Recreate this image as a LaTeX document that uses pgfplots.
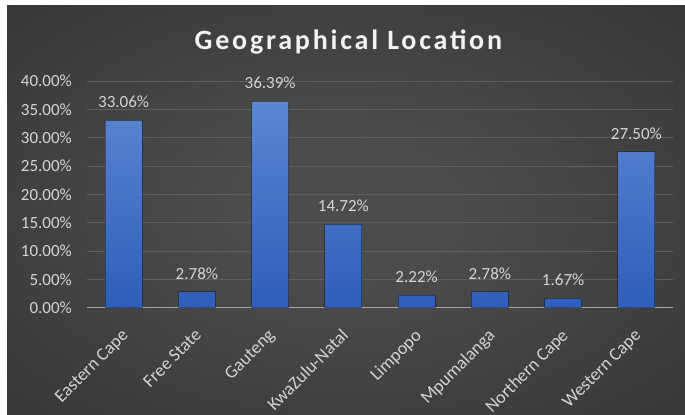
\documentclass[border=0pt]{standalone}
\usepackage{pgfplots}
\pgfplotsset{compat=1.18}
\pgfplotsset{/pgf/number format/assume math mode=true}
\usepackage{fontspec}
\setmainfont{Carlito}
\newfontfamily\titlefont[LetterSpace=10]{Carlito}
\definecolor{bgin}{HTML}{4C4C4C}
\definecolor{bgout}{HTML}{232323}
\definecolor{txt}{HTML}{D4D4D4}
\definecolor{gridc}{HTML}{5E5E5E}
\definecolor{axc}{HTML}{A6A6A6}
\definecolor{bartop}{HTML}{5C86D2}
\definecolor{barbot}{HTML}{2E5DBB}
\pgfdeclareradialshading{bgshade}{\pgfpoint{0bp}{0bp}}{color(0bp)=(bgin); color(8bp)=(bgin); color(62bp)=(bgout); color(75bp)=(bgout)}
\begin{document}
\begin{tikzpicture}
\fill[white] (0bp,0bp) rectangle (685bp,415bp);
\shade[shading=bgshade] (7bp,0bp) rectangle (685bp,409bp);
\node[anchor=base, text=black!70, opacity=0.6] at (349.4bp,364bp) {\titlefont\fontsize{28bp}{32bp}\selectfont\bfseries Geographical Location};
\node[anchor=base, text=white!95!black] at (348.4bp,365bp) {\titlefont\fontsize{28bp}{32bp}\selectfont\bfseries Geographical Location};
\begin{axis}[
  at={(87bp,107.3bp)}, anchor=south west,
  scale only axis, width=586bp, height=226.7bp,
  ymin=0, ymax=40, xmin=-0.5, xmax=7.5,
  ytick={0,5,...,40},
  xtick={0,...,7},
  xticklabels={Eastern Cape,Free State,Gauteng,KwaZulu-Natal,Limpopo,Mpumalanga,Northern Cape,Western Cape},
  separate axis lines,
  axis x line*=bottom, axis y line*=left,
  x axis line style={draw=axc, line width=1.3bp, -},
  y axis line style={draw=none},
  major tick length=0pt,
  ymajorgrids, major grid style={draw=gridc, line width=0.9bp},
  yticklabel={\pgfmathprintnumber[fixed,fixed zerofill,precision=2]{\tick}\%},
  yticklabel style={font=\fontsize{17bp}{20bp}\selectfont, text=txt, inner sep=0pt, xshift=-15bp},
  xticklabel style={font=\fontsize{18bp}{20bp}\selectfont, text=txt, xshift=-3bp, yshift=-20bp, rotate=45, anchor=north east, inner sep=0pt},
  ybar, bar width=37bp,
  nodes near coords={\pgfmathprintnumber[fixed,fixed zerofill,precision=2]{\pgfplotspointmeta}\%},
  nodes near coords style={font=\fontsize{17bp}{20bp}\selectfont, text=txt, anchor=south, inner sep=0pt, yshift=12bp},
  clip=false,
]
\addplot[draw=black, draw opacity=0.35, line width=1bp, top color=bartop, bottom color=barbot] coordinates {
  (0,33.06) (1,2.78) (2,36.39) (3,14.72) (4,2.22) (5,2.78) (6,1.67) (7,27.50)
};
\end{axis}
\pgfresetboundingbox
\path[use as bounding box] (0bp,0bp) rectangle (685bp,415bp);
\end{tikzpicture}
\end{document}
